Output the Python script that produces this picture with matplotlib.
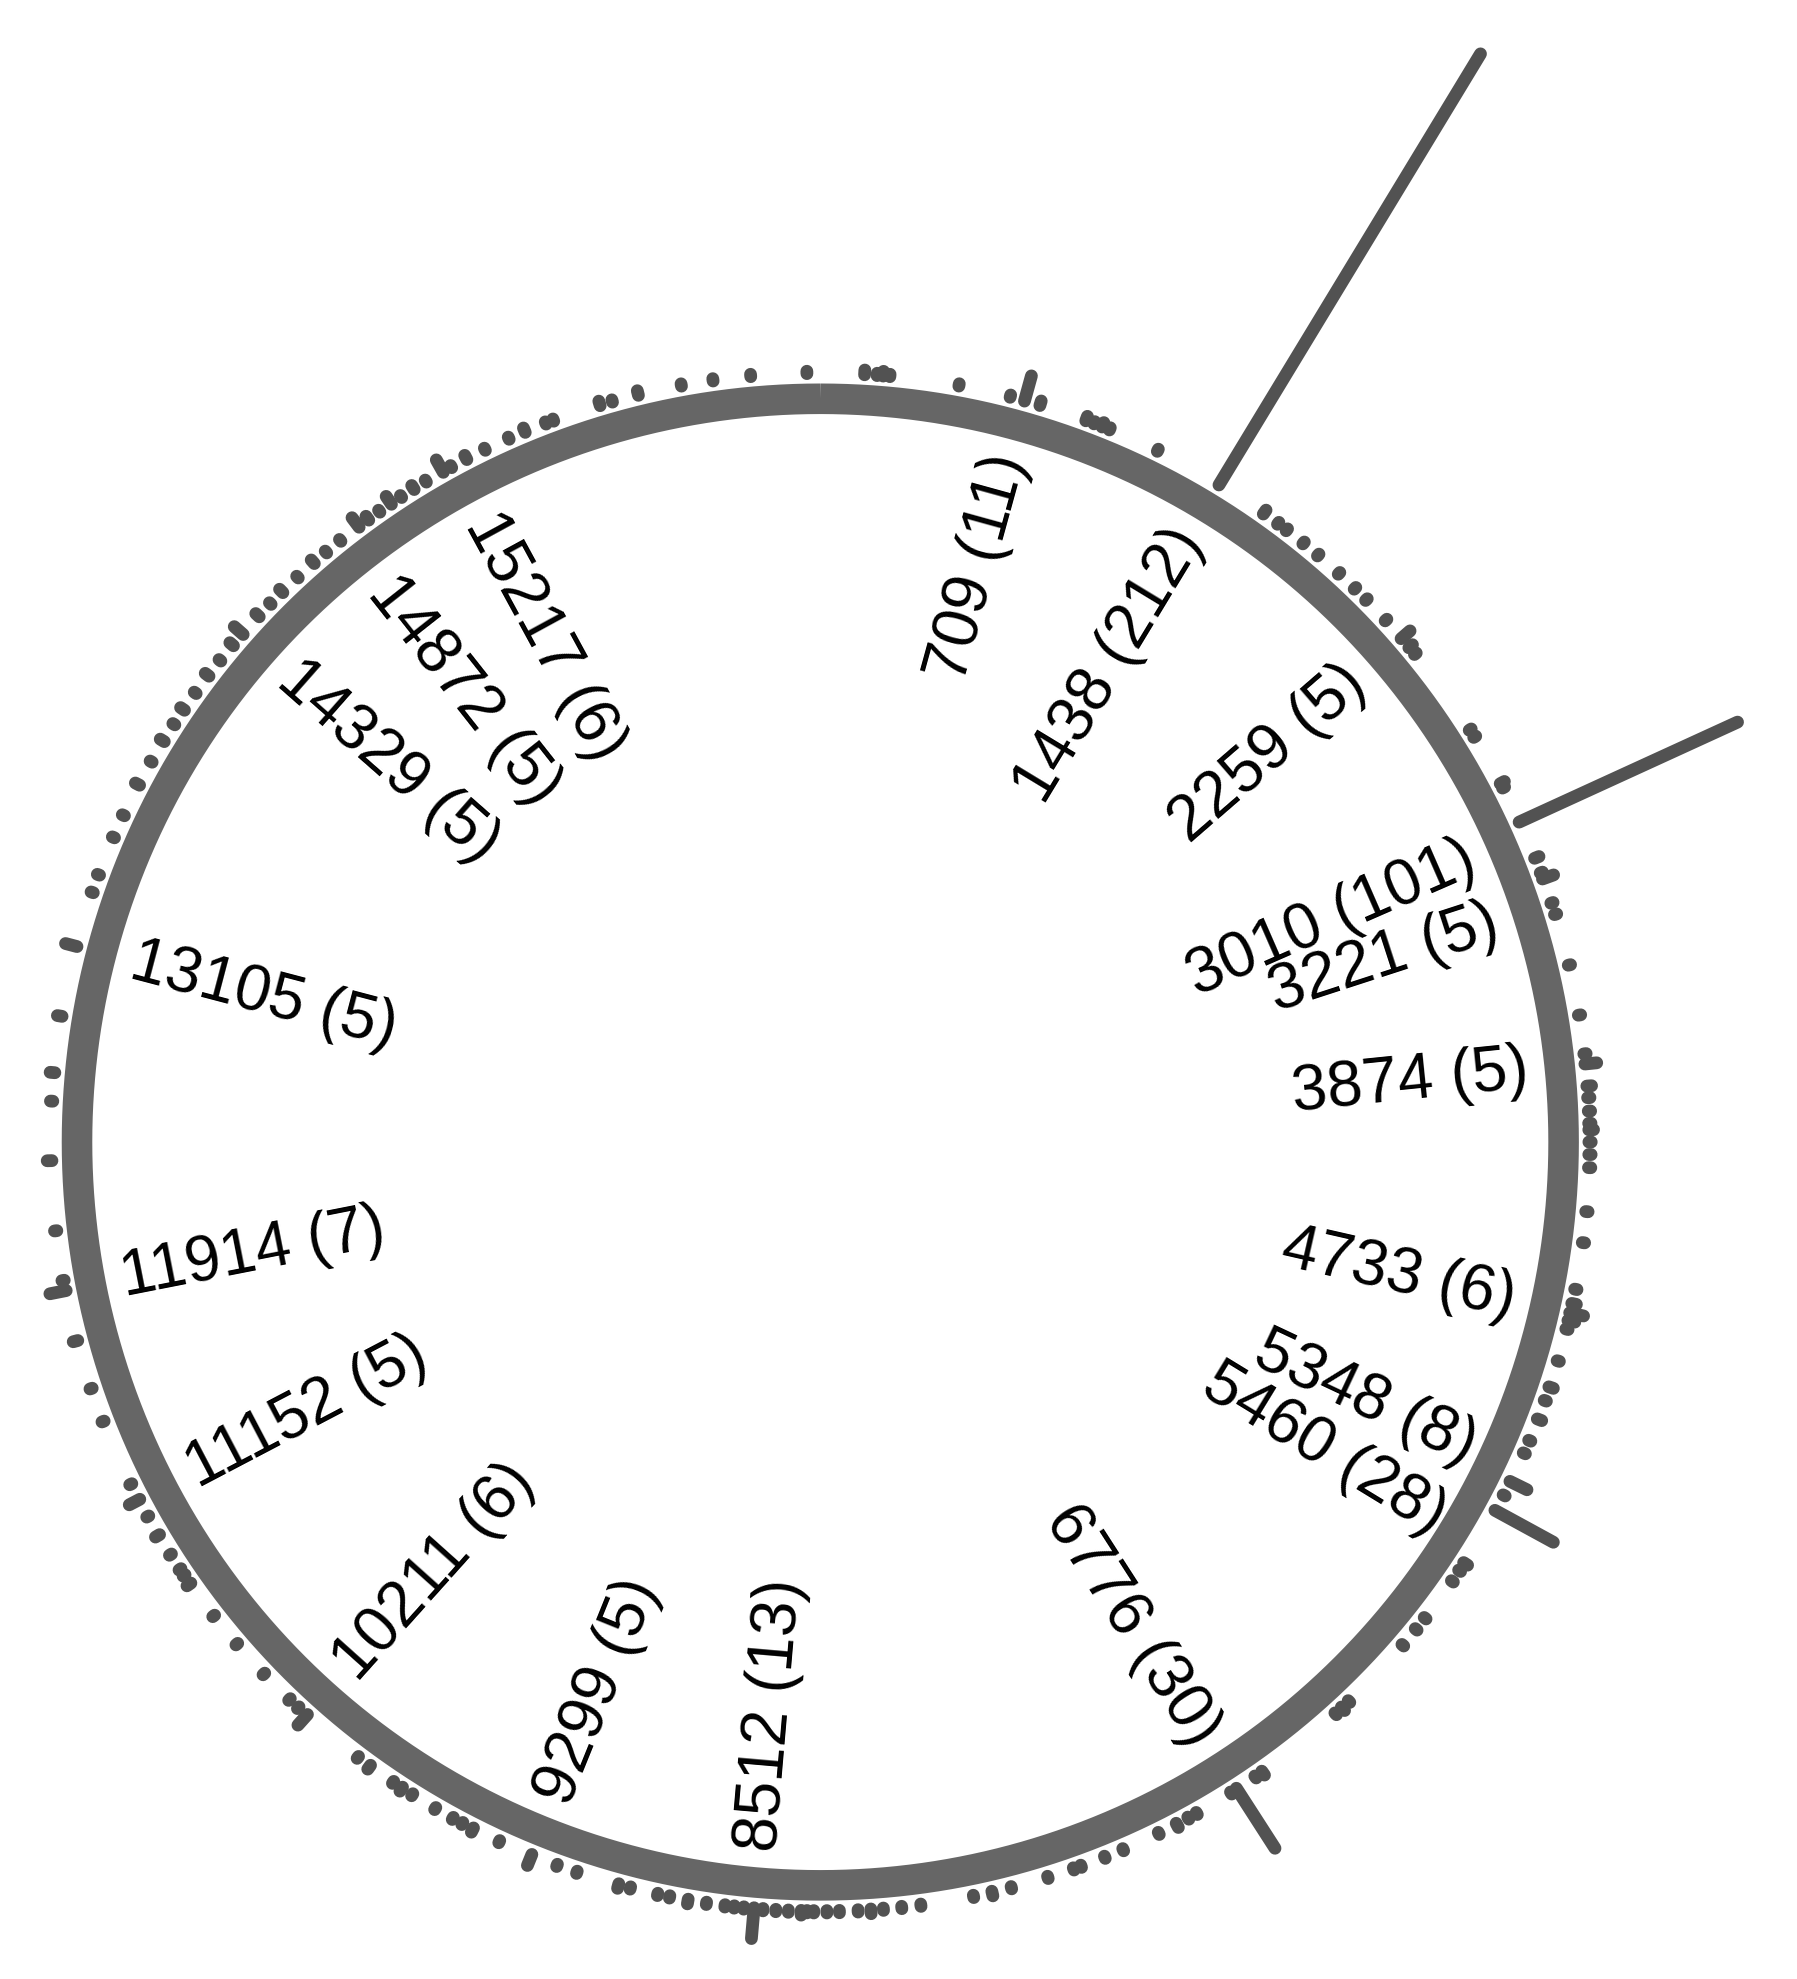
import numpy as np
import matplotlib
matplotlib.use('Agg')
import matplotlib.pyplot as plt
from matplotlib.collections import LineCollection

GENOME_LEN = 16569

# variant positions around the mitochondrial genome and how often each was seen
positions = [
    152, 195, 216, 239, 478, 658, 709, 764, 930, 960, 990, 1017, 1197,
    1438, 1620, 1680, 1717, 1790, 1855, 1950, 2025, 2080, 2177, 2259, 2300, 2330,
    2651, 2680, 2863, 2880,
    3010, 3145, 3199, 3221, 3309, 3350, 3530, 3705, 3839, 3874, 3950, 3990, 4036,
    4078, 4100, 4142, 4185, 4230, 4381, 4488,
    4650, 4700, 4733, 4760, 4790, 4903, 4997, 5046, 5114, 5193, 5240, 5348, 5400,
    5460, 5669, 5700, 5744, 5901, 5950, 6021, 6288, 6320, 6350,
    6671, 6700, 6776, 6800, 6937, 6970, 7015, 7084, 7218, 7286, 7373, 7400, 7493,
    7623, 7691, 7756,
    7939, 8005, 8068, 8111, 8155, 8219, 8262, 8307, 8330, 8350, 8394, 8437, 8481,
    8512, 8547, 8580, 8612, 8676, 8740, 8804, 8846, 8942, 8984,
    9133, 9205, 9299, 9419, 9519, 9560, 9597, 9666, 9758, 9800, 9836, 9933, 9984,
    10211, 10250, 10291, 10415, 10553, 10678, 10815, 10850, 10875, 10935, 11013,
    11087, 11152, 11212, 11447, 11567, 11738, 11914, 11950, 12122, 12363, 12567,
    12665, 12860, 13105, 13298, 13362, 13500, 13583, 13700, 13790, 13872, 13940,
    14000, 14070, 14144, 14210, 14278, 14329, 14411, 14470, 14527, 14600, 14674,
    14730, 14793, 14872, 14913, 14960, 15008, 15050, 15101, 15150, 15217, 15250,
    15309, 15380, 15470, 15530, 15607, 15635, 15803, 15847, 15939, 16090, 16200,
    16330, 16523,
]
counts = [
    2, 1, 2, 1, 1, 1, 11, 2, 2, 1, 2, 1, 1,
    212, 2, 1, 1, 1, 1, 1, 1, 1, 1, 5, 2, 1,
    1, 1, 2, 1,
    101, 2, 1, 5, 1, 1, 1, 1, 1, 5, 2, 1, 1,
    1, 2, 1, 1, 1, 1, 1,
    1, 2, 6, 3, 1, 1, 2, 1, 2, 1, 1, 8, 1,
    28, 2, 1, 1, 1, 1, 1, 1, 2, 1,
    2, 1, 30, 1, 1, 1, 2, 1, 1, 1, 1, 1, 1,
    1, 2, 1,
    1, 1, 1, 2, 1, 1, 1, 1, 1, 2, 1, 1, 1,
    13, 1, 1, 1, 1, 2, 1, 1, 1, 2,
    1, 1, 5, 1, 2, 1, 1, 1, 1, 2, 1, 2, 1,
    6, 1, 1, 1, 1, 1, 2, 1, 1, 1, 2,
    1, 5, 1, 1, 1, 2, 7, 1, 1, 2, 1,
    2, 2, 5, 1, 1, 1, 1, 2, 1, 2, 1,
    2, 1, 2, 1, 2, 5, 2, 1, 2, 1, 2,
    1, 1, 5, 2, 1, 4, 1, 2, 1, 6, 1,
    2, 1, 1, 2, 1, 1, 2, 1, 2, 1, 1,
    1, 1,
]

LABEL_MIN = 5
# small angle (deg) / radius nudges so crowded labels do not sit on top of each other
label_nudge = {5348: (-1.0, 0.012), 5460: (2.8, 0.02), 3010: (1.0, 0.0), 3221: (2.0, 0.0),
               15217: (0.8, 0.0), 14872: (-1.4, 0.0)}

RING_COLOR = '#666666'
BAR_COLOR = '#525252'
R_BASE = 1.034      # where the bars start (just outside the ring)
PER_COUNT = 0.0032  # radial length per observation
R_LABEL = 0.958

plt.rcParams['font.family'] = ['Liberation Sans', 'DejaVu Sans']


def to_xy(pos, r):
    theta = np.asarray(pos, dtype=float) / GENOME_LEN * 2 * np.pi
    return r * np.sin(theta), r * np.cos(theta)


fig = plt.figure(figsize=(17.97, 19.79), dpi=100)
ax = fig.add_axes([0, 0, 1, 1])
ax.set_xlim(-1.1036, 1.3140)
ax.set_ylim(-1.1260, 1.5365)
ax.axis('off')

# genome ring
ring = np.linspace(0, GENOME_LEN, 721)
rx, ry = to_xy(ring, 1.0)
ax.plot(rx, ry, color=RING_COLOR, lw=22, solid_capstyle='butt', zorder=1)

# one radial bar per variant position
cnt = np.asarray(counts, dtype=float)
x0, y0 = to_xy(positions, R_BASE)
x1, y1 = to_xy(positions, R_BASE + cnt * PER_COUNT)
segs = [[(a, b), (c, d)] for a, b, c, d in zip(x0, y0, x1, y1)]
ax.add_collection(LineCollection(segs, colors=BAR_COLOR, linewidths=9.2,
                                 capstyle='round', zorder=2))

# labels for recurrent positions
for p, c in zip(positions, counts):
    if c < LABEL_MIN:
        continue
    d_ang, d_r = label_nudge.get(p, (0.0, 0.0))
    ang = p / GENOME_LEN * 360 + d_ang
    r = R_LABEL + d_r
    lx = r * np.sin(np.radians(ang))
    ly = r * np.cos(np.radians(ang))
    if ang < 180:
        rot, ha = 90 - ang, 'right'
    else:
        rot, ha = 270 - ang, 'left'
    ax.text(lx, ly, f"{p} ({c})", rotation=rot, rotation_mode='anchor',
            ha=ha, va='center', fontsize=46, color='black', zorder=3)

fig.savefig('out.png', dpi=100, facecolor='white')
